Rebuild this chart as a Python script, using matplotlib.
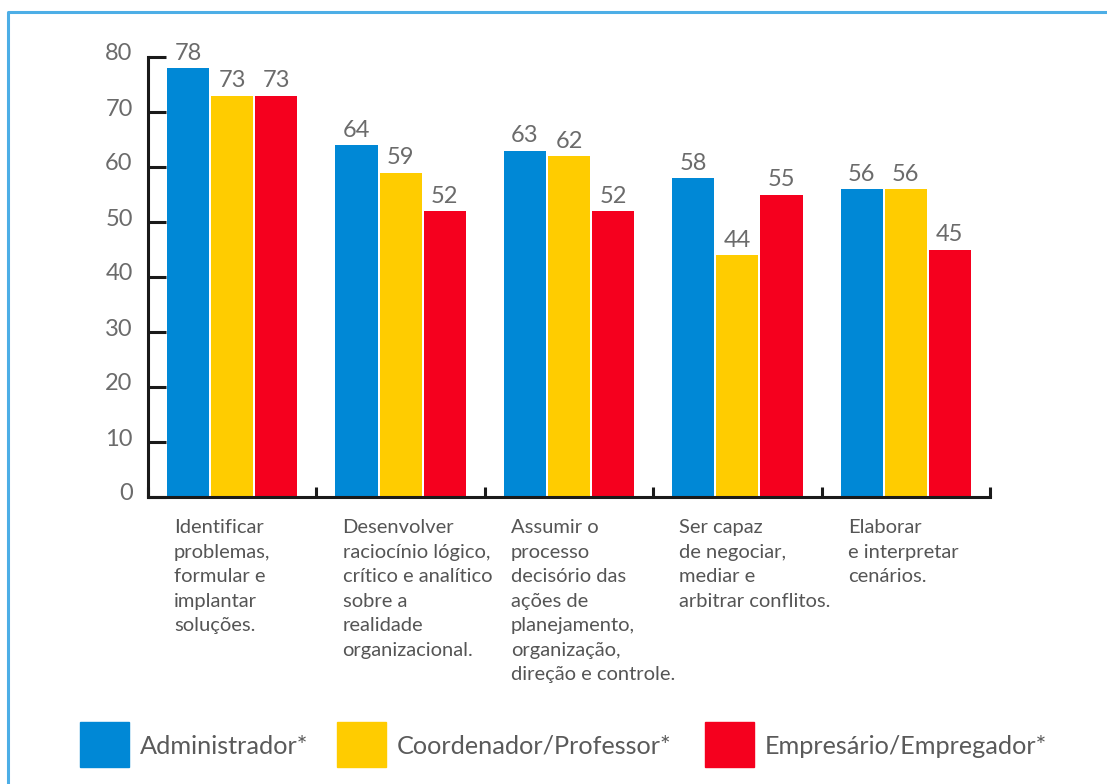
import numpy as np
import matplotlib
matplotlib.use("Agg")
import matplotlib.pyplot as plt
from matplotlib.lines import Line2D
from matplotlib.patches import Rectangle
from matplotlib import transforms

plt.rcParams['font.family'] = ['Lato', 'DejaVu Sans']

# --- dados ---
categorias = [
    "Identificar\nproblemas,\nformular e\nimplantar\nsoluções.",
    "Desenvolver\nraciocínio lógico,\ncrítico e analítico\nsobre a\nrealidade\norganizacional.",
    "Assumir o\nprocesso\ndecisório das\nações de\nplanejamento,\norganização,\ndireção e controle.",
    "Ser capaz\nde negociar,\nmediar e\narbitrar conflitos.",
    "Elaborar\ne interpretar\ncenários.",
]
series = ["Administrador*", "Coordenador/Professor*", "Empresário/Empregador*"]
administrador = [78, 64, 63, 58, 56]
coordenador = [73, 59, 62, 44, 56]
empresario = [73, 52, 52, 55, 45]
yticks = [0, 10, 20, 30, 40, 50, 60, 70, 80]

cores = ["#0088D6", "#FFCC00", "#F5001E"]
cinza = "#6b6b6b"

W, H = 1107, 784
fig = plt.figure(figsize=(W / 100, H / 100), dpi=100)
ax = fig.add_axes([148 / W, 1 - 497 / H, (990 - 148) / W, (497 - 57) / H])

x = np.arange(len(categorias))
larg = 0.25
passo = 0.262
valores = [administrador, coordenador, empresario]
for k, (vals, cor) in enumerate(zip(valores, cores)):
    barras = ax.bar(x + (k - 1) * passo, vals, width=larg, color=cor, zorder=2)
    for b, v in zip(barras, vals):
        ax.annotate(str(v), (b.get_x() + b.get_width() / 2, v),
                    xytext=(0, 3), textcoords="offset points",
                    ha="center", va="bottom", fontsize=17, color=cinza,
                    clip_on=False)

ax.set_xlim(-0.5, len(categorias) - 0.5)
ax.set_ylim(0, 80)
ax.set_yticks(yticks)
ax.tick_params(axis="y", direction="in", length=13, width=2.2, pad=11,
               labelsize=17, labelcolor=cinza, color="#1a1a1a")
# números do eixo y um pouco acima dos traços
sobe = transforms.ScaledTranslation(0, 5 / 100, fig.dpi_scale_trans)
for lbl in ax.get_yticklabels():
    lbl.set_transform(lbl.get_transform() + sobe)
ax.set_xticks([])
ax.set_xticks(np.arange(-0.5, len(categorias)), minor=True)
ax.tick_params(axis="x", which="minor", direction="in", length=7, width=2.2,
               color="#1a1a1a")
for lado in ["top", "right"]:
    ax.spines[lado].set_visible(False)
for lado in ["left", "bottom"]:
    ax.spines[lado].set_linewidth(2.2)
    ax.spines[lado].set_color("#1a1a1a")
    ax.spines[lado].set_zorder(3)

# rótulos das categorias abaixo do eixo
trans = transforms.blended_transform_factory(ax.transData, ax.transAxes)
for i, cat in enumerate(categorias):
    ax.text(i - 0.345, -0.051, cat, transform=trans, ha="left", va="top",
            fontsize=14.5, color="#555555", linespacing=1.53)

# legenda
leg_x = [80, 337, 705]
for nome, cor, lx in zip(series, cores, leg_x):
    fig.add_artist(Rectangle((lx / W, 1 - 767 / H), 49 / W, 45 / H,
                             transform=fig.transFigure, color=cor))
    fig.text((lx + 60) / W, 1 - 746 / H, nome, ha="left", va="center",
             fontsize=18.2, color="#5a5a5a")

# moldura azul
fig.add_artist(Line2D([8 / W, 8 / W, 1], [0, 1 - 12 / H, 1 - 12 / H],
                      transform=fig.transFigure, color="#4DAEE6", lw=2.2))

fig.savefig("out.png", dpi=100)
